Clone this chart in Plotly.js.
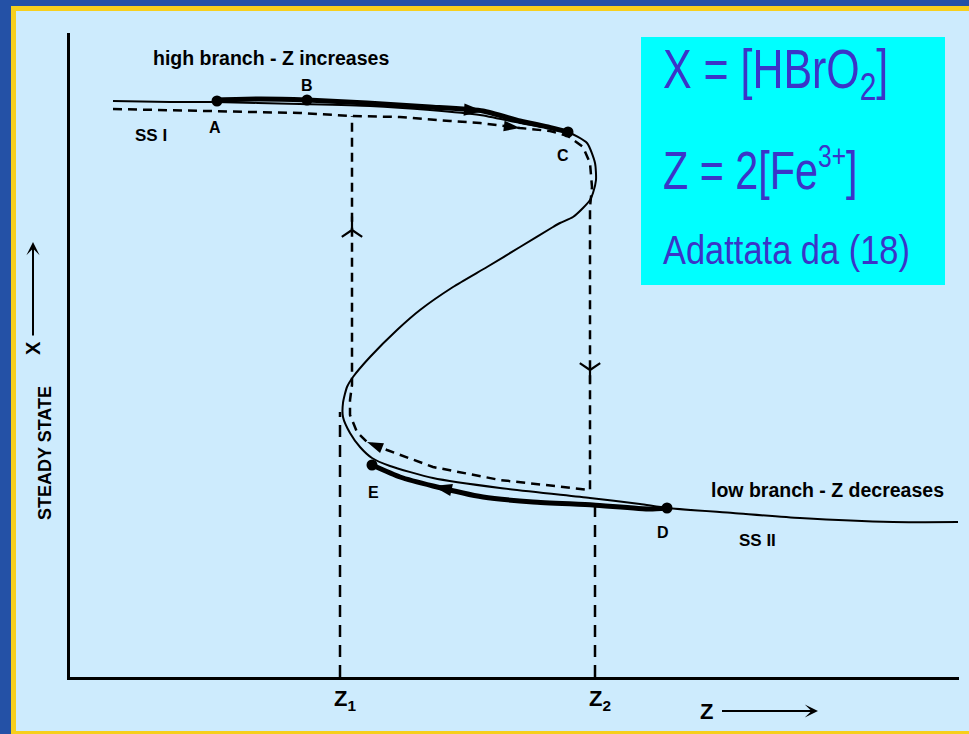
<!DOCTYPE html>
<html>
<head>
<meta charset="utf-8">
<script src="https://cdn.plot.ly/plotly-3.0.1.min.js"></script>
<style>
  html, body { margin: 0; padding: 0; background: #2451a6; }
  #chart { width: 969px; height: 734px; }
</style>
</head>
<body>
<div id="chart"></div>
<script>
// Steady-state curve X(Z): high branch, unstable middle branch, low branch
const ssZ = [0.43, 1.00, 1.45, 2.30, 3.00, 3.60, 4.10, 4.50, 4.80, 4.98, 5.17, 5.25, 5.26, 5.23, 5.20,
             5.13, 5.03, 4.90, 4.83, 4.50, 4.17, 3.83, 3.50, 3.27, 3.00, 2.83, 2.77, 2.73, 2.73, 2.80,
             2.90, 3.02, 3.20, 3.63, 4.30, 5.20, 5.70, 5.97, 6.63, 7.30, 8.23, 8.88];
const ssX = [5.76, 5.75, 5.75, 5.73, 5.71, 5.67, 5.62, 5.54, 5.49, 5.45, 5.34, 5.14, 4.97, 4.84, 4.77,
             4.69, 4.60, 4.54, 4.50, 4.30, 4.10, 3.90, 3.67, 3.47, 3.20, 3.00, 2.90, 2.74, 2.60, 2.44,
             2.30, 2.19, 2.11, 1.99, 1.89, 1.79, 1.73, 1.69, 1.64, 1.59, 1.55, 1.55];

// High branch followed while Z increases (A -> B -> C)
const hiZ = [1.47, 1.90, 2.37, 2.97, 3.60, 4.13, 4.50, 4.78, 4.98];
const hiX = [5.77, 5.78, 5.77, 5.74, 5.70, 5.66, 5.56, 5.50, 5.45];

// Low branch followed while Z decreases (D -> E)
const loZ = [5.97, 5.80, 5.23, 4.63, 4.13, 3.63, 3.30, 3.02];
const loX = [1.69, 1.68, 1.72, 1.75, 1.80, 1.91, 2.00, 2.12];

// Hysteresis loop: along the high branch, jump down at Z2, back along the low branch, jump up at Z1
const hyZ = [0.43, 1.00, 1.45, 2.30, 2.82, 3.30, 3.80, 4.10, 4.50, 4.80, 4.98, 5.13, 5.20, 5.22, 5.20,
             5.20, 5.20, 4.30, 3.63, 3.17, 2.97, 2.87, 2.80, 2.80, 2.82, 2.82, 2.82];
const hyX = [5.68, 5.67, 5.66, 5.64, 5.61, 5.60, 5.56, 5.54, 5.49, 5.46, 5.41, 5.30, 5.14, 4.90, 4.70,
             3.07, 1.87, 1.97, 2.10, 2.27, 2.35, 2.45, 2.62, 2.77, 2.92, 4.47, 5.61];

// Marked states
const ptNames = ['A', 'B', 'C', 'D', 'E'];
const ptZ = [1.47, 2.37, 4.98, 5.97, 3.02];
const ptX = [5.76, 5.77, 5.45, 1.69, 2.12];

// Critical values of Z and the X level where each marker line stops
const critNames = ['Z<sub>1</sub>', 'Z<sub>2</sub>'];
const critZ = [2.70, 5.25];
const critTop = [2.65, 1.77];

// Vertex indices that carry a direction arrow
const hiArrowAt = [5];
const loArrowAt = [5];
const hyArrowAt = [8, 20];       // filled arrows on the loop
const hyJumpArrowAt = [15, 25];  // open arrows on the vertical jumps

// Plot-area frame (pixels) used to place decorations in paper units
const L = 70, R = 959, T = 33, B = 677;
const px = v => (v - L) / (R - L);
const py = v => (B - v) / (B - T);

const ink = '#000000';
const boxBlue = '#3b34c8';
const sans = 'Liberation Sans, Arial, sans-serif';
const labelFont = { family: sans, size: 16, color: ink, weight: 'bold' };

// marker trace that shows an arrow only at the chosen vertices, oriented along the path
function arrowTrace(zs, xs, idx, symbol, size, lineWidth) {
  const sizes = zs.map((_, i) => idx.includes(i) ? size : 0);
  const ops = zs.map((_, i) => idx.includes(i) ? 1 : 0);
  return {
    x: zs, y: xs, mode: 'markers', hoverinfo: 'skip',
    marker: { symbol: symbol, size: sizes, opacity: ops, angleref: 'previous', color: ink,
              line: { color: ink, width: lineWidth } }
  };
}

const traces = [
  { x: ssZ, y: ssX, mode: 'lines', line: { color: ink, width: 2, shape: 'spline', smoothing: 0.6 }, hoverinfo: 'skip' },
  { x: hyZ, y: hyX, mode: 'lines', line: { color: ink, width: 2.5, dash: '9px,6px' }, hoverinfo: 'skip' },
  { x: hiZ, y: hiX, mode: 'lines', line: { color: ink, width: 5, shape: 'spline', smoothing: 0.5 }, hoverinfo: 'skip' },
  { x: loZ, y: loX, mode: 'lines', line: { color: ink, width: 5, shape: 'spline', smoothing: 0.5 }, hoverinfo: 'skip' },
  { x: [critZ[0], critZ[0]], y: [0, critTop[0]], mode: 'lines', line: { color: ink, width: 2.5, dash: '12px,8px' }, hoverinfo: 'skip' },
  { x: [critZ[1], critZ[1]], y: [0, critTop[1]], mode: 'lines', line: { color: ink, width: 2.5, dash: '12px,8px' }, hoverinfo: 'skip' },
  { x: ptZ, y: ptX, mode: 'markers', marker: { color: ink, size: 11 }, hoverinfo: 'skip' },
  arrowTrace(hiZ, hiX, hiArrowAt, 'arrow', 20, 0),
  arrowTrace(loZ, loX, loArrowAt, 'arrow', 20, 0),
  arrowTrace(hyZ, hyX, hyArrowAt, 'arrow', 17, 0),
  arrowTrace(hyZ, hyX, hyJumpArrowAt, 'y-up-open', 17, 2.2)
];

const annotations = [];

// letters beside the marked states
const ptShift = { A: [-2, -26], B: [0, 15], C: [-5, -23], D: [-4, -24], E: [1, -27] };
ptNames.forEach((n, i) => {
  annotations.push({
    x: ptZ[i], y: ptX[i], xref: 'x', yref: 'y', text: n, showarrow: false,
    xshift: ptShift[n][0], yshift: ptShift[n][1], font: labelFont
  });
});

// branch captions
annotations.push(
  { x: 0.81, y: 5.42, xref: 'x', yref: 'y', text: 'SS I', showarrow: false, font: Object.assign({}, labelFont, { size: 17 }) },
  { x: 6.87, y: 1.37, xref: 'x', yref: 'y', text: 'SS II', showarrow: false, font: Object.assign({}, labelFont, { size: 17 }) },
  { x: 2.01, y: 6.19, xref: 'x', yref: 'y', text: 'high branch - Z increases', showarrow: false, font: Object.assign({}, labelFont, { size: 19.5 }) },
  { x: 7.57, y: 1.87, xref: 'x', yref: 'y', text: 'low branch - Z decreases', showarrow: false, font: Object.assign({}, labelFont, { size: 19.5 }) }
);

// critical Z labels under the axis
critNames.forEach((n, i) => {
  annotations.push({
    x: critZ[i], y: py(716), xref: 'x', yref: 'paper', text: n, showarrow: false,
    xshift: 5, font: { family: sans, size: 22, color: ink, weight: 'bold' }
  });
});

// axis captions, each with its arrow
annotations.push(
  { x: px(818), y: py(711), xref: 'paper', yref: 'paper', text: 'Z', showarrow: true,
    ax: -112, ay: 0, startstandoff: 8, arrowhead: 3, arrowsize: 1.1, arrowwidth: 2, arrowcolor: ink,
    font: { family: sans, size: 22, color: ink, weight: 'bold' } },
  { x: px(33), y: py(453), xref: 'paper', yref: 'paper', text: 'STEADY STATE', textangle: -90, showarrow: false,
    font: { family: sans, size: 18, color: ink, weight: 'bold' } },
  { x: px(33), y: py(242), xref: 'paper', yref: 'paper', text: 'X', textangle: -90, showarrow: true,
    ax: 0, ay: 106, startstandoff: 4, arrowhead: 3, arrowsize: 1.1, arrowwidth: 2, arrowcolor: ink,
    font: { family: sans, size: 20, color: ink, weight: 'bold' } }
);

// definitions box text (narrowed after drawing)
const boxFont = size => ({ family: sans, size: size, color: boxBlue });
const boxStart = annotations.length;
annotations.push(
  { x: px(661), y: py(73), xref: 'paper', yref: 'paper', xanchor: 'left', yanchor: 'middle', showarrow: false,
    text: 'X = [HBrO<sub>2</sub>]', font: boxFont(55) },
  { x: px(661), y: py(169), xref: 'paper', yref: 'paper', xanchor: 'left', yanchor: 'middle', showarrow: false,
    text: 'Z = 2[Fe<sup><span style="font-size:0.85em">3+</span></sup>]', font: boxFont(53) },
  { x: px(661), y: py(250), xref: 'paper', yref: 'paper', xanchor: 'left', yanchor: 'middle', showarrow: false,
    text: 'Adattata da (18)', font: boxFont(41) }
);
const boxNarrow = [0.78, 0.78, 0.84];

const shapes = [
  // yellow frame and light panel
  { type: 'rect', xref: 'paper', yref: 'paper', x0: px(11), x1: px(980), y0: py(745), y1: py(6),
    fillcolor: '#f7cf1d', line: { width: 0 }, layer: 'below' },
  { type: 'rect', xref: 'paper', yref: 'paper', x0: px(16), x1: px(980), y0: py(731), y1: py(11),
    fillcolor: '#cdebfd', line: { width: 0 }, layer: 'below' },
  // cyan definition box
  { type: 'rect', xref: 'paper', yref: 'paper', x0: px(641), x1: px(945), y0: py(285), y1: py(37),
    fillcolor: '#00ffff', line: { width: 0 }, layer: 'below' }
];

const layout = {
  width: 969, height: 734,
  margin: { l: L, r: 969 - R, t: T, b: 734 - B },
  paper_bgcolor: '#2451a6',
  plot_bgcolor: 'rgba(0,0,0,0)',
  showlegend: false,
  xaxis: { range: [0, 8.89], showline: true, linecolor: ink, linewidth: 3, showgrid: false,
           zeroline: false, showticklabels: false, ticks: '', fixedrange: true },
  yaxis: { range: [0, 6.44], showline: true, linecolor: ink, linewidth: 3, showgrid: false,
           zeroline: false, showticklabels: false, ticks: '', fixedrange: true },
  shapes: shapes,
  annotations: annotations
};

Plotly.newPlot('chart', traces, layout, { displayModeBar: false, staticPlot: true }).then(gd => {
  // condensed lettering for the definitions box
  boxNarrow.forEach((k, j) => {
    const t = gd.querySelector('.annotation[data-index="' + (boxStart + j) + '"] text.annotation-text');
    if (t) {
      t.style.transformBox = 'fill-box';
      t.style.transformOrigin = '0% 50%';
      t.style.transform = 'scaleX(' + k + ')';
    }
  });
});
</script>
</body>
</html>
